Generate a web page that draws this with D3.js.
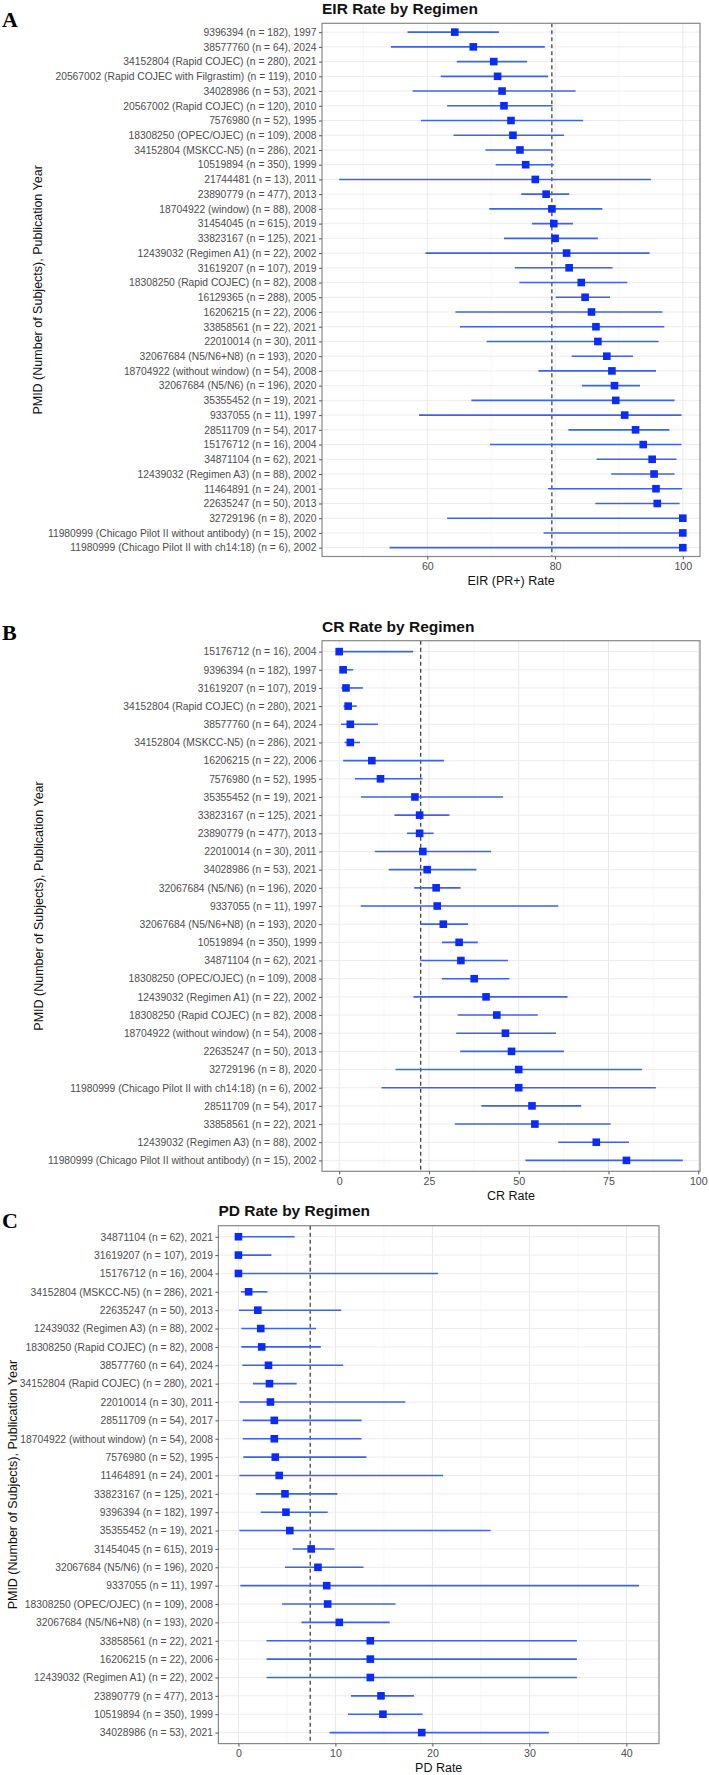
<!DOCTYPE html>
<html>
<head>
<meta charset="utf-8">
<script src="https://cdn.jsdelivr.net/npm/d3@7"></script>
<style>
  html, body { margin: 0; padding: 0; background: #ffffff; }
  svg { display: block; }
</style>
</head>
<body>
<svg id="chart" width="709" height="1775"></svg>
<script>
// ---------------- DATA ----------------
const eirLabels = [
  "9396394 (n = 182), 1997",
  "38577760 (n = 64), 2024",
  "34152804 (Rapid COJEC) (n = 280), 2021",
  "20567002 (Rapid COJEC with Filgrastim) (n = 119), 2010",
  "34028986 (n = 53), 2021",
  "20567002 (Rapid COJEC) (n = 120), 2010",
  "7576980 (n = 52), 1995",
  "18308250 (OPEC/OJEC) (n = 109), 2008",
  "34152804 (MSKCC-N5) (n = 286), 2021",
  "10519894 (n = 350), 1999",
  "21744481 (n = 13), 2011",
  "23890779 (n = 477), 2013",
  "18704922 (window) (n = 88), 2008",
  "31454045 (n = 615), 2019",
  "33823167 (n = 125), 2021",
  "12439032 (Regimen A1) (n = 22), 2002",
  "31619207 (n = 107), 2019",
  "18308250 (Rapid COJEC) (n = 82), 2008",
  "16129365 (n = 288), 2005",
  "16206215 (n = 22), 2006",
  "33858561 (n = 22), 2021",
  "22010014 (n = 30), 2011",
  "32067684 (N5/N6+N8) (n = 193), 2020",
  "18704922 (without window) (n = 54), 2008",
  "32067684 (N5/N6) (n = 196), 2020",
  "35355452 (n = 19), 2021",
  "9337055 (n = 11), 1997",
  "28511709 (n = 54), 2017",
  "15176712 (n = 16), 2004",
  "34871104 (n = 62), 2021",
  "12439032 (Regimen A3) (n = 88), 2002",
  "11464891 (n = 24), 2001",
  "22635247 (n = 50), 2013",
  "32729196 (n = 8), 2020",
  "11980999 (Chicago Pilot II without antibody) (n = 15), 2002",
  "11980999 (Chicago Pilot II with ch14:18) (n = 6), 2002"
];
const eirEst  = [64.3, 67.2, 70.4, 71.0, 71.7, 72.0, 73.1, 73.4, 74.5, 75.4, 76.9, 78.6, 79.5, 79.8, 80.0, 81.8, 82.2, 84.1, 84.7, 85.7, 86.4, 86.7, 88.1, 88.9, 89.3, 89.5, 90.9, 92.6, 93.8, 95.2, 95.5, 95.8, 96.0, 100, 100, 100];
const eirLow  = [56.9, 54.3, 64.6, 62.1, 57.7, 63.1, 59.0, 64.1, 69.1, 70.7, 46.2, 74.7, 69.7, 76.4, 72.0, 59.7, 73.7, 74.4, 80.1, 64.4, 65.1, 69.3, 82.6, 77.4, 84.2, 66.9, 58.7, 82.1, 69.8, 86.5, 88.8, 78.9, 86.3, 63.1, 78.2, 54.1];
const eirHigh = [71.2, 78.4, 75.6, 78.9, 83.2, 79.6, 84.4, 81.4, 79.4, 79.8, 95.0, 82.2, 87.4, 82.8, 86.7, 94.8, 89.0, 91.3, 88.6, 96.8, 97.1, 96.2, 92.2, 95.8, 93.3, 98.7, 99.8, 97.9, 99.8, 99.0, 98.7, 99.9, 99.5, 100, 100, 100];

const crLabels = [
  "15176712 (n = 16), 2004",
  "9396394 (n = 182), 1997",
  "31619207 (n = 107), 2019",
  "34152804 (Rapid COJEC) (n = 280), 2021",
  "38577760 (n = 64), 2024",
  "34152804 (MSKCC-N5) (n = 286), 2021",
  "16206215 (n = 22), 2006",
  "7576980 (n = 52), 1995",
  "35355452 (n = 19), 2021",
  "33823167 (n = 125), 2021",
  "23890779 (n = 477), 2013",
  "22010014 (n = 30), 2011",
  "34028986 (n = 53), 2021",
  "32067684 (N5/N6) (n = 196), 2020",
  "9337055 (n = 11), 1997",
  "32067684 (N5/N6+N8) (n = 193), 2020",
  "10519894 (n = 350), 1999",
  "34871104 (n = 62), 2021",
  "18308250 (OPEC/OJEC) (n = 109), 2008",
  "12439032 (Regimen A1) (n = 22), 2002",
  "18308250 (Rapid COJEC) (n = 82), 2008",
  "18704922 (without window) (n = 54), 2008",
  "22635247 (n = 50), 2013",
  "32729196 (n = 8), 2020",
  "11980999 (Chicago Pilot II with ch14:18) (n = 6), 2002",
  "28511709 (n = 54), 2017",
  "33858561 (n = 22), 2021",
  "12439032 (Regimen A3) (n = 88), 2002",
  "11980999 (Chicago Pilot II without antibody) (n = 15), 2002"
];
const crEst  = [0, 1.1, 1.9, 2.5, 3.1, 3.1, 9.1, 11.5, 21.1, 22.4, 22.4, 23.3, 24.5, 27.0, 27.3, 29.0, 33.4, 33.9, 37.6, 40.9, 43.9, 46.3, 48.0, 50.0, 50.0, 53.7, 54.5, 71.6, 80.0];
const crLow  = [0, 0.1, 0.6, 1.2, 0.5, 1.5, 1.1, 4.4, 6.1, 15.4, 18.9, 9.9, 13.8, 20.9, 6.0, 22.8, 28.6, 22.6, 28.6, 20.7, 33.0, 32.6, 33.7, 15.7, 11.8, 39.6, 32.2, 61.0, 51.9];
const crHigh = [20.6, 3.9, 6.6, 4.9, 10.8, 5.8, 29.2, 23.2, 45.6, 30.7, 26.3, 42.3, 38.2, 33.8, 61.0, 35.9, 38.6, 47.0, 47.4, 63.6, 55.3, 60.4, 62.6, 84.3, 88.2, 67.4, 75.6, 80.7, 95.7];

const pdLabels = [
  "34871104 (n = 62), 2021",
  "31619207 (n = 107), 2019",
  "15176712 (n = 16), 2004",
  "34152804 (MSKCC-N5) (n = 286), 2021",
  "22635247 (n = 50), 2013",
  "12439032 (Regimen A3) (n = 88), 2002",
  "18308250 (Rapid COJEC) (n = 82), 2008",
  "38577760 (n = 64), 2024",
  "34152804 (Rapid COJEC) (n = 280), 2021",
  "22010014 (n = 30), 2011",
  "28511709 (n = 54), 2017",
  "18704922 (without window) (n = 54), 2008",
  "7576980 (n = 52), 1995",
  "11464891 (n = 24), 2001",
  "33823167 (n = 125), 2021",
  "9396394 (n = 182), 1997",
  "35355452 (n = 19), 2021",
  "31454045 (n = 615), 2019",
  "32067684 (N5/N6) (n = 196), 2020",
  "9337055 (n = 11), 1997",
  "18308250 (OPEC/OJEC) (n = 109), 2008",
  "32067684 (N5/N6+N8) (n = 193), 2020",
  "33858561 (n = 22), 2021",
  "16206215 (n = 22), 2006",
  "12439032 (Regimen A1) (n = 22), 2002",
  "23890779 (n = 477), 2013",
  "10519894 (n = 350), 1999",
  "34028986 (n = 53), 2021"
];
const pdEst  = [0, 0, 0, 1.05, 2.0, 2.3, 2.4, 3.1, 3.2, 3.3, 3.7, 3.7, 3.8, 4.2, 4.8, 4.9, 5.3, 7.5, 8.2, 9.1, 9.2, 10.4, 13.6, 13.6, 13.6, 14.7, 14.9, 18.9];
const pdLow  = [0, 0, 0, 0.25, 0.05, 0.3, 0.3, 0.4, 1.5, 0.1, 0.45, 0.45, 0.5, 0.1, 1.8, 2.3, 0.1, 5.6, 4.8, 0.2, 4.5, 6.5, 2.9, 2.9, 2.9, 11.6, 11.3, 9.4];
const pdHigh = [5.8, 3.4, 20.6, 3.0, 10.6, 8.0, 8.5, 10.8, 6.0, 17.2, 12.7, 12.7, 13.2, 21.1, 10.2, 9.2, 26.0, 9.9, 12.9, 41.3, 16.2, 15.6, 34.9, 34.9, 34.9, 18.1, 19.0, 32.0];

const eirTicks = [60, 80, 100];
const crTicks  = [0, 25, 50, 75, 100];
const pdTicks  = [0, 10, 20, 30, 40];
const eirMinor = [50, 70, 90];
const crMinor  = [12.5, 37.5, 62.5, 87.5];
const pdMinor  = [5, 15, 25, 35];

const eirRef = 79.5, crRef = 22.7, pdRef = 7.4;

const yAxisTitle = "PMID (Number of Subjects), Publication Year";

// ---------------- DRAWING ----------------
const svg = d3.select("#chart");

function drawPanel(cfg) {
  const g = svg.append("g");
  const rows = cfg.labels.map((l, i) => ({ label: l, est: cfg.est[i], lo: cfg.lo[i], hi: cfg.hi[i] }));

  // ggplot-style 5% expansion
  const dmin = d3.min(cfg.lo), dmax = d3.max(cfg.hi);
  const pad = (dmax - dmin) * 0.05;
  const x = d3.scaleLinear().domain([dmin - pad, dmax + pad]).range([cfg.x0, cfg.x1]);
  const y = d3.scalePoint().domain(cfg.labels).range([cfg.y0, cfg.y1]).padding(0.6);

  // minor grid
  g.append("g").selectAll("line").data(cfg.minor).join("line")
    .attr("x1", d => x(d)).attr("x2", d => x(d))
    .attr("y1", cfg.y0).attr("y2", cfg.y1)
    .attr("stroke", "#f3f3f3").attr("stroke-width", 0.7);
  // major grid x
  g.append("g").selectAll("line").data(cfg.ticks).join("line")
    .attr("x1", d => x(d)).attr("x2", d => x(d))
    .attr("y1", cfg.y0).attr("y2", cfg.y1)
    .attr("stroke", "#e9e9e9").attr("stroke-width", 1);
  // major grid y
  g.append("g").selectAll("line").data(cfg.labels).join("line")
    .attr("x1", cfg.x0).attr("x2", cfg.x1)
    .attr("y1", d => y(d)).attr("y2", d => y(d))
    .attr("stroke", "#ececec").attr("stroke-width", 1);

  // reference line
  g.append("line")
    .attr("x1", x(cfg.ref)).attr("x2", x(cfg.ref))
    .attr("y1", cfg.y0).attr("y2", cfg.y1)
    .attr("stroke", "#333").attr("stroke-width", 1.2)
    .attr("stroke-dasharray", "4,3");

  // error bars
  g.append("g").selectAll("line").data(rows).join("line")
    .attr("x1", d => x(d.lo)).attr("x2", d => x(d.hi))
    .attr("y1", d => y(d.label)).attr("y2", d => y(d.label))
    .attr("stroke", "#3d63e6").attr("stroke-width", 1.6);

  // points
  const s = 7.6;
  g.append("g").selectAll("rect").data(rows).join("rect")
    .attr("x", d => x(d.est) - s / 2).attr("y", d => y(d.label) - s / 2)
    .attr("width", s).attr("height", s)
    .attr("fill", "#0a2cf5");

  // panel border
  g.append("rect")
    .attr("x", cfg.x0).attr("y", cfg.y0)
    .attr("width", cfg.x1 - cfg.x0).attr("height", cfg.y1 - cfg.y0)
    .attr("fill", "none").attr("stroke", "#888").attr("stroke-width", 1.2);

  // y axis (left)
  const yAx = g.append("g").attr("transform", `translate(${cfg.x0},0)`)
    .call(d3.axisLeft(y).tickSize(3).tickPadding(2.5));
  yAx.select(".domain").remove();
  yAx.selectAll(".tick line").attr("stroke", "#555");
  yAx.selectAll(".tick text")
    .attr("fill", "#4d4d4d")
    .style("font-family", "'Liberation Sans', Arial, sans-serif")
    .style("font-size", "10.3px");

  // x axis (bottom)
  const xAx = g.append("g").attr("transform", `translate(0,${cfg.y1})`)
    .call(d3.axisBottom(x).tickValues(cfg.ticks).tickFormat(d3.format("d")).tickSize(3).tickPadding(3));
  xAx.select(".domain").remove();
  xAx.selectAll(".tick line").attr("stroke", "#555");
  xAx.selectAll(".tick text")
    .attr("fill", "#4d4d4d")
    .style("font-family", "'Liberation Sans', Arial, sans-serif")
    .style("font-size", "10.6px");

  // x axis title
  g.append("text")
    .attr("x", (cfg.x0 + cfg.x1) / 2).attr("y", cfg.xTitleY)
    .attr("text-anchor", "middle")
    .style("font-family", "'Liberation Sans', Arial, sans-serif")
    .style("font-size", "12.5px").attr("fill", "#111")
    .text(cfg.xTitle);

  // y axis title
  g.append("text")
    .attr("transform", `translate(${cfg.yTitleX},${(cfg.y0 + cfg.y1) / 2}) rotate(-90)`)
    .attr("text-anchor", "middle")
    .style("font-family", "'Liberation Sans', Arial, sans-serif")
    .style("font-size", "12.5px").attr("fill", "#111")
    .text(yAxisTitle);

  // plot title
  g.append("text")
    .attr("x", cfg.x0).attr("y", cfg.titleY)
    .style("font-family", "'Liberation Sans', Arial, sans-serif")
    .style("font-size", "15.5px").style("font-weight", "bold").attr("fill", "#111")
    .text(cfg.title);

  // panel letter
  g.append("text")
    .attr("x", 2).attr("y", cfg.letterY)
    .style("font-family", "'Liberation Serif', 'Times New Roman', serif")
    .style("font-size", "22px").style("font-weight", "bold").attr("fill", "#000")
    .text(cfg.letter);
}

drawPanel({
  labels: eirLabels, est: eirEst, lo: eirLow, hi: eirHigh,
  ticks: eirTicks, minor: eirMinor, ref: eirRef,
  x0: 322, x1: 700, y0: 23.3, y1: 556.5,
  title: "EIR Rate by Regimen", titleY: 14, letter: "A", letterY: 27,
  xTitle: "EIR (PR+) Rate", xTitleY: 584.5, yTitleX: 41.5
});

drawPanel({
  labels: crLabels, est: crEst, lo: crLow, hi: crHigh,
  ticks: crTicks, minor: crMinor, ref: crRef,
  x0: 322, x1: 700, y0: 640.7, y1: 1171.3,
  title: "CR Rate by Regimen", titleY: 631.5, letter: "B", letterY: 640,
  xTitle: "CR Rate", xTitleY: 1199.5, yTitleX: 42.5
});

drawPanel({
  labels: pdLabels, est: pdEst, lo: pdLow, hi: pdHigh,
  ticks: pdTicks, minor: pdMinor, ref: pdRef,
  x0: 218.4, x1: 659, y0: 1225.7, y1: 1743.6,
  title: "PD Rate by Regimen", titleY: 1216, letter: "C", letterY: 1228,
  xTitle: "PD Rate", xTitleY: 1771.8, yTitleX: 16.5
});
</script>
</body>
</html>
